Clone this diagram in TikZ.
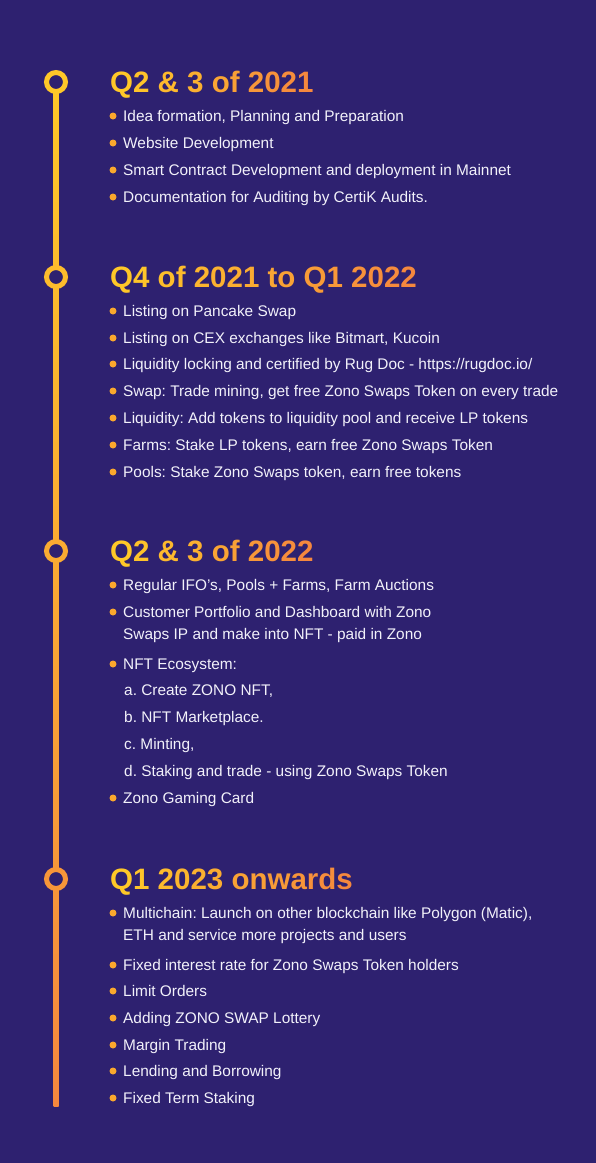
\documentclass[tikz,border=0pt]{standalone}
\usepackage{fontspec}
\setmainfont{Liberation Sans}
\usetikzlibrary{calc}
\frenchspacing
\definecolor{bg}{RGB}{46,33,112}
\definecolor{Yc}{RGB}{255,200,40}
\definecolor{Oc}{RGB}{245,136,62}
\definecolor{txt}{RGB}{242,241,250}
\definecolor{dotc}{RGB}{250,168,45}
\colorlet{rc1}{Yc}
\colorlet{rc2}{Oc!19!Yc}
\colorlet{rc3}{Oc!46!Yc}
\colorlet{rc4}{Oc!78!Yc}
\ExplSyntaxOn
\NewDocumentCommand\gradtext{m m m}{
  \int_zero:N \l_tmpa_int
  \int_set:Nn \l_tmpb_int {\str_count:n{#3}}
  \str_map_inline:nn {#3} {
    \int_incr:N \l_tmpa_int
    \str_if_eq:nnTF {##1} {~} {~}
      {\textcolor{#2!\int_eval:n{100*(\l_tmpa_int-1)/(\l_tmpb_int-1)}!#1}{##1}}
  }
}
\ExplSyntaxOff
\tikzset{
  ring/.style={circle, draw=#1, line width=5pt, fill=bg, minimum size=19pt, inner sep=0pt},
  bdot/.style={circle, fill=dotc, minimum size=7pt, inner sep=0pt},
  itemtxt/.style={anchor=base west, inner sep=0pt, text=txt, font=\fontsize{15.4}{18}\selectfont},
  headtxt/.style={anchor=base west, inner sep=0pt, font=\fontsize{29.5}{34}\selectfont\bfseries},
}
\newcommand\bitem[3]{%
  \node[bdot] (d#1) at (113,#2) {};
  \node[itemtxt] (t#1) at (123,#2+5.8) {#3};}
\begin{document}
\begin{tikzpicture}[x=1pt,y=-1pt]
\fill[bg] (0,0) rectangle (596,1163);
\useasboundingbox (0,0) rectangle (596,1163);
% timeline
\coordinate (top) at (56,82);
\coordinate (lend) at (56,1106);
\shade[top color=Yc, bottom color=Oc] ($(top)+(-2.5,0)$) rectangle ($(lend)+(2.5,0)$);
\node[ring=rc1] (r1) at (56,82) {};
\node[ring=rc2] (r2) at (56,277) {};
\node[ring=rc3] (r3) at (56,551) {};
\node[ring=rc4] (r4) at (56,879) {};
% headings
\node[headtxt] (h1) at (110,92.7) {\gradtext{Yc}{Oc}{Q2 & 3 of 2021}};
\node[headtxt] (h2) at (110,287.7) {\gradtext{Yc}{Oc}{Q4 of 2021 to Q1 2022}};
\node[headtxt] (h3) at (110,561.7) {\gradtext{Yc}{Oc}{Q2 & 3 of 2022}};
\node[headtxt] (h4) at (110,889.7) {\gradtext{Yc}{Oc}{Q1 2023 onwards}};
% section 1
\bitem{a1}{116}{Idea formation, Planning and Preparation}
\bitem{a2}{143}{Website Development}
\bitem{a3}{170}{Smart Contract Development and deployment in Mainnet}
\bitem{a4}{197}{Documentation for Auditing by CertiK Audits.}
% section 2
\bitem{b1}{311}{Listing on Pancake Swap}
\bitem{b2}{338}{Listing on CEX exchanges like Bitmart, Kucoin}
\bitem{b3}{364}{Liquidity locking and certified by Rug Doc - https://rugdoc.io/}
\bitem{b4}{391}{Swap: Trade mining, get free Zono Swaps Token on every trade}
\bitem{b5}{418}{Liquidity: Add tokens to liquidity pool and receive LP tokens}
\bitem{b6}{445}{Farms: Stake LP tokens, earn free Zono Swaps Token}
\bitem{b7}{472}{Pools: Stake Zono Swaps token, earn free tokens}
% section 3
\bitem{c1}{585}{Regular IFO’s, Pools + Farms, Farm Auctions}
\bitem{c2}{612}{Customer Portfolio and Dashboard with Zono}
\node[itemtxt] (tc2b) at (123,639.8) {Swaps IP and make into NFT - paid in Zono};
\bitem{c3}{664}{NFT Ecosystem:}
\node[itemtxt] (tc3a) at (124,695.8) {a. Create ZONO NFT,};
\node[itemtxt] (tc3b) at (124,722.8) {b. NFT Marketplace.};
\node[itemtxt] (tc3c) at (124,749.8) {c. Minting,};
\node[itemtxt] (tc3d) at (124,776.8) {d. Staking and trade - using Zono Swaps Token};
\bitem{c4}{798}{Zono Gaming Card}
% section 4
\bitem{e1}{913}{Multichain: Launch on other blockchain like Polygon (Matic),}
\node[itemtxt] (te1b) at (123,940.8) {ETH and service more projects and users};
\bitem{e2}{965}{Fixed interest rate for Zono Swaps Token holders}
\bitem{e3}{991}{Limit Orders}
\bitem{e4}{1018}{Adding ZONO SWAP Lottery}
\bitem{e5}{1045}{Margin Trading}
\bitem{e6}{1071}{Lending and Borrowing}
\bitem{e7}{1098}{Fixed Term Staking}
\end{tikzpicture}
\end{document}
